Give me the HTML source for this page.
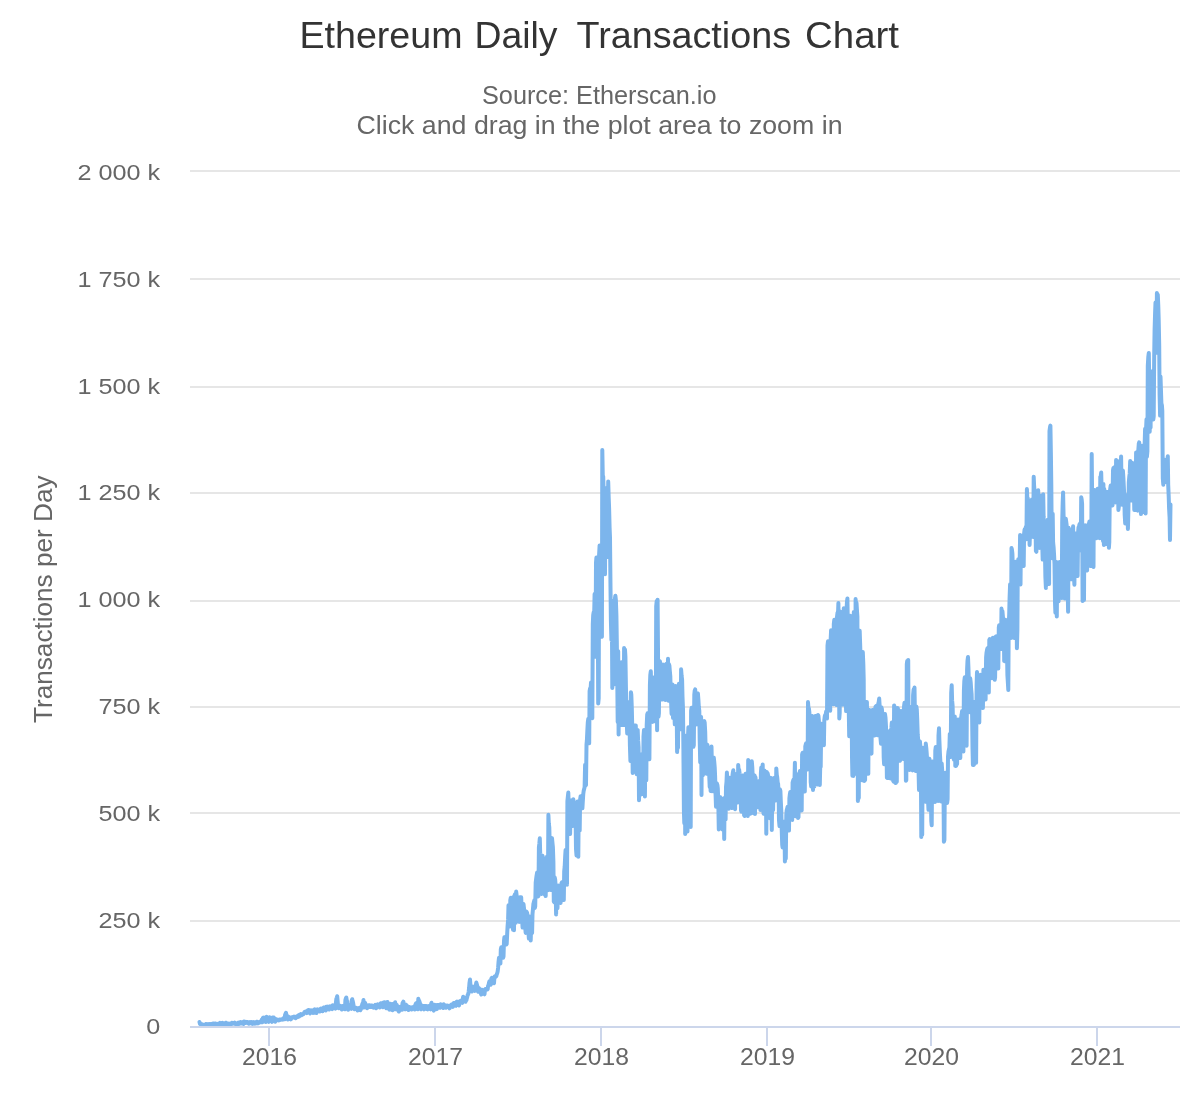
<!DOCTYPE html>
<html><head><meta charset="utf-8"><title>Ethereum Daily Transactions Chart</title>
<style>html,body{margin:0;padding:0;background:#fff;}body{width:1200px;height:1100px;overflow:hidden;font-family:"Liberation Sans",sans-serif;}svg{display:block;will-change:transform;}text{font-family:"Liberation Sans",sans-serif;}</style></head><body>
<svg width="1200" height="1100" viewBox="0 0 1200 1100">
<rect x="0" y="0" width="1200" height="1100" fill="#ffffff"/>
<defs><clipPath id="plotclip"><rect x="190" y="170" width="990" height="856"/></clipPath></defs>
<g stroke="#e6e6e6" stroke-width="2" fill="none">
<path d="M190 171 L1180 171"/>
<path d="M190 279 L1180 279"/>
<path d="M190 387 L1180 387"/>
<path d="M190 493 L1180 493"/>
<path d="M190 601 L1180 601"/>
<path d="M190 707 L1180 707"/>
<path d="M190 813 L1180 813"/>
<path d="M190 921 L1180 921"/>
</g>
<g stroke="#ccd6eb" stroke-width="2" fill="none">
<path d="M190 1027 L1180 1027"/>
<path d="M269 1027 L269 1046"/>
<path d="M435 1027 L435 1046"/>
<path d="M601 1027 L601 1046"/>
<path d="M767 1027 L767 1046"/>
<path d="M931 1027 L931 1046"/>
<path d="M1097 1027 L1097 1046"/>
</g>
<g clip-path="url(#plotclip)">
<path d="M199.5 1022.0 L200.0 1023.9 L200.4 1024.1 L200.9 1023.8 L201.3 1024.2 L201.8 1024.5 L202.2 1024.5 L202.7 1025.9 L203.1 1024.6 L203.6 1025.5 L204.0 1025.4 L204.5 1026.0 L204.9 1025.7 L205.4 1024.7 L205.8 1024.1 L206.3 1024.3 L206.7 1024.0 L207.2 1024.9 L207.7 1024.8 L208.1 1024.3 L208.6 1024.6 L209.0 1024.3 L209.5 1024.0 L209.9 1024.2 L210.4 1024.8 L210.8 1024.1 L211.3 1025.0 L211.7 1025.8 L212.2 1023.7 L212.6 1024.9 L213.1 1023.8 L213.5 1023.5 L214.0 1023.4 L214.5 1025.3 L214.9 1025.1 L215.4 1023.5 L215.8 1024.1 L216.3 1023.9 L216.7 1024.5 L217.2 1024.2 L217.6 1023.9 L218.1 1025.3 L218.5 1024.6 L219.0 1024.2 L219.4 1023.4 L219.9 1022.9 L220.3 1023.4 L220.8 1024.0 L221.2 1025.3 L221.7 1023.0 L222.2 1023.2 L222.6 1022.8 L223.1 1023.7 L223.5 1024.6 L224.0 1024.0 L224.4 1024.6 L224.9 1024.0 L225.3 1024.1 L225.8 1022.7 L226.2 1023.0 L226.7 1023.9 L227.1 1023.6 L227.6 1024.4 L228.0 1023.5 L228.5 1024.2 L229.0 1023.5 L229.4 1023.9 L229.9 1024.4 L230.3 1024.9 L230.8 1025.0 L231.2 1023.3 L231.7 1022.8 L232.1 1022.8 L232.6 1023.0 L233.0 1023.4 L233.5 1023.4 L233.9 1023.7 L234.4 1023.3 L234.8 1022.7 L235.3 1023.9 L235.7 1023.2 L236.2 1023.5 L236.7 1024.8 L237.1 1025.0 L237.6 1023.6 L238.0 1022.8 L238.5 1023.1 L238.9 1024.0 L239.4 1022.5 L239.8 1023.6 L240.3 1023.1 L240.7 1022.2 L241.2 1022.9 L241.6 1023.5 L242.1 1022.4 L242.5 1022.2 L243.0 1023.3 L243.5 1023.9 L243.9 1021.5 L244.4 1022.3 L244.8 1022.4 L245.3 1022.1 L245.7 1021.8 L246.2 1022.8 L246.6 1022.5 L247.1 1021.9 L247.5 1022.0 L248.0 1023.3 L248.4 1023.4 L248.9 1023.7 L249.3 1022.7 L249.8 1022.8 L250.2 1022.0 L250.7 1022.8 L251.2 1023.3 L251.6 1023.0 L252.1 1022.2 L252.5 1023.9 L253.0 1023.8 L253.4 1022.7 L253.9 1022.1 L254.3 1022.4 L254.8 1023.6 L255.2 1022.7 L255.7 1023.5 L256.1 1022.6 L256.6 1021.9 L257.0 1023.2 L257.5 1021.8 L258.0 1023.4 L258.4 1022.4 L258.9 1022.3 L259.3 1022.1 L259.8 1022.5 L260.2 1022.2 L260.7 1022.0 L261.1 1022.1 L261.6 1019.9 L262.0 1021.7 L262.5 1022.1 L262.9 1017.8 L263.4 1017.6 L263.8 1017.7 L264.3 1017.8 L264.7 1018.7 L265.2 1021.7 L265.7 1021.9 L266.1 1017.1 L266.6 1016.8 L267.0 1017.1 L267.5 1017.7 L267.9 1018.9 L268.4 1020.6 L268.8 1021.9 L269.3 1017.4 L269.7 1017.3 L270.2 1017.8 L270.6 1018.1 L271.1 1019.0 L271.5 1021.2 L272.0 1021.9 L272.4 1017.4 L272.9 1017.4 L273.4 1017.5 L273.8 1017.5 L274.3 1018.7 L274.7 1020.9 L275.2 1021.7 L275.6 1019.0 L276.1 1019.8 L276.5 1019.5 L277.0 1020.1 L277.4 1019.6 L277.9 1020.3 L278.3 1020.4 L278.8 1019.7 L279.2 1019.7 L279.7 1020.2 L280.2 1019.6 L280.6 1019.4 L281.1 1019.4 L281.5 1019.5 L282.0 1019.7 L282.4 1019.1 L282.9 1019.5 L283.3 1018.3 L283.8 1018.8 L284.2 1018.4 L284.7 1019.2 L285.1 1014.7 L285.6 1013.8 L286.0 1012.9 L286.5 1015.1 L286.9 1016.2 L287.4 1018.4 L287.9 1019.5 L288.3 1016.4 L288.8 1017.7 L289.2 1017.2 L289.7 1019.0 L290.1 1019.0 L290.6 1018.5 L291.0 1019.3 L291.5 1017.4 L291.9 1017.8 L292.4 1017.6 L292.8 1017.5 L293.3 1016.9 L293.7 1017.5 L294.2 1016.7 L294.7 1017.7 L295.1 1017.3 L295.6 1018.1 L296.0 1017.9 L296.5 1016.5 L296.9 1017.2 L297.4 1016.1 L297.8 1016.1 L298.3 1016.8 L298.7 1015.4 L299.2 1016.4 L299.6 1015.8 L300.1 1014.5 L300.5 1015.4 L301.0 1014.1 L301.4 1015.3 L301.9 1014.8 L302.4 1014.6 L302.8 1014.5 L303.3 1013.7 L303.7 1013.9 L304.2 1012.5 L304.6 1011.9 L305.1 1011.8 L305.5 1011.5 L306.0 1011.4 L306.4 1012.2 L306.9 1013.1 L307.3 1011.2 L307.8 1010.4 L308.2 1010.1 L308.7 1010.1 L309.2 1011.6 L309.6 1012.4 L310.1 1013.4 L310.5 1011.1 L311.0 1010.3 L311.4 1011.1 L311.9 1010.6 L312.3 1012.0 L312.8 1012.9 L313.2 1012.9 L313.7 1010.0 L314.1 1009.7 L314.6 1009.3 L315.0 1010.5 L315.5 1010.0 L315.9 1012.9 L316.4 1013.0 L316.9 1009.6 L317.3 1009.3 L317.8 1009.7 L318.2 1009.8 L318.7 1011.1 L319.1 1011.4 L319.6 1011.5 L320.0 1009.2 L320.5 1008.8 L320.9 1008.6 L321.4 1009.1 L321.8 1009.5 L322.3 1011.3 L322.7 1011.3 L323.2 1008.0 L323.7 1007.6 L324.1 1007.4 L324.6 1007.5 L325.0 1007.8 L325.5 1010.1 L325.9 1010.4 L326.4 1006.8 L326.8 1006.7 L327.3 1006.6 L327.7 1006.9 L328.2 1007.4 L328.6 1009.1 L329.1 1009.5 L329.5 1006.5 L330.0 1006.2 L330.4 1006.7 L330.9 1007.4 L331.4 1006.7 L331.8 1007.4 L332.3 1009.1 L332.7 1005.2 L333.2 1006.3 L333.6 1006.1 L334.1 1006.6 L334.5 1006.1 L335.0 1008.3 L335.4 1008.7 L335.9 1002.9 L336.3 999.2 L336.8 997.6 L337.2 996.2 L337.7 1001.8 L338.1 1006.6 L338.6 1008.3 L339.1 1005.5 L339.5 1005.7 L340.0 1005.7 L340.4 1007.0 L340.9 1007.5 L341.3 1008.8 L341.8 1009.4 L342.2 1006.3 L342.7 1006.0 L343.1 1006.1 L343.6 1006.0 L344.0 1007.3 L344.5 1008.2 L344.9 1009.3 L345.4 1000.1 L345.9 998.3 L346.3 997.6 L346.8 1000.5 L347.2 1001.5 L347.7 1007.8 L348.1 1009.7 L348.6 1005.5 L349.0 1005.4 L349.5 1005.4 L349.9 1005.8 L350.4 1006.9 L350.8 1008.5 L351.3 1008.8 L351.7 1000.4 L352.2 999.2 L352.6 1001.1 L353.1 1002.7 L353.6 1005.9 L354.0 1008.9 L354.5 1009.2 L354.9 1008.6 L355.4 1007.6 L355.8 1008.1 L356.3 1008.5 L356.7 1008.2 L357.2 1009.5 L357.6 1010.5 L358.1 1009.1 L358.5 1008.2 L359.0 1008.4 L359.4 1007.9 L359.9 1009.4 L360.4 1010.2 L360.8 1009.4 L361.3 1007.1 L361.7 1006.2 L362.2 1004.5 L362.6 1003.3 L363.1 1003.2 L363.5 1000.1 L364.0 1007.6 L364.4 1002.6 L364.9 1002.7 L365.3 1003.5 L365.8 1004.6 L366.2 1005.5 L366.7 1006.3 L367.1 1008.2 L367.6 1006.5 L368.1 1006.1 L368.5 1006.5 L369.0 1005.2 L369.4 1006.1 L369.9 1007.1 L370.3 1007.1 L370.8 1005.5 L371.2 1006.4 L371.7 1006.2 L372.1 1005.5 L372.6 1007.2 L373.0 1006.9 L373.5 1007.6 L373.9 1006.6 L374.4 1005.7 L374.9 1005.4 L375.3 1004.8 L375.8 1006.4 L376.2 1008.2 L376.7 1007.2 L377.1 1005.1 L377.6 1004.4 L378.0 1005.7 L378.5 1005.9 L378.9 1006.4 L379.4 1006.4 L379.8 1007.4 L380.3 1003.7 L380.7 1003.3 L381.2 1003.2 L381.6 1003.2 L382.1 1004.5 L382.6 1006.3 L383.0 1007.2 L383.5 1002.6 L383.9 1002.4 L384.4 1002.3 L384.8 1003.5 L385.3 1003.5 L385.7 1007.1 L386.2 1008.1 L386.6 1002.3 L387.1 1002.1 L387.5 1002.1 L388.0 1004.0 L388.4 1006.1 L388.9 1009.0 L389.4 1009.7 L389.8 1004.0 L390.3 1003.7 L390.7 1004.0 L391.2 1005.0 L391.6 1006.0 L392.1 1009.9 L392.5 1010.1 L393.0 1004.0 L393.4 1003.9 L393.9 1003.7 L394.3 1004.7 L394.8 1005.3 L395.2 1002.3 L395.7 1009.3 L396.1 1004.5 L396.6 1004.6 L397.1 1005.7 L397.5 1006.4 L398.0 1007.4 L398.4 1010.8 L398.9 1011.5 L399.3 1007.0 L399.8 1006.9 L400.2 1007.1 L400.7 1006.5 L401.1 1006.8 L401.6 1009.8 L402.0 1009.8 L402.5 1003.3 L402.9 1002.6 L403.4 1001.7 L403.8 1004.3 L404.3 1005.4 L404.8 1008.6 L405.2 1009.3 L405.7 1004.7 L406.1 1004.8 L406.6 1005.3 L407.0 1006.0 L407.5 1006.7 L407.9 1009.5 L408.4 1009.9 L408.8 1007.2 L409.3 1007.0 L409.7 1007.1 L410.2 1007.7 L410.6 1008.5 L411.1 1008.9 L411.6 1009.5 L412.0 1007.3 L412.5 1007.3 L412.9 1008.2 L413.4 1007.0 L413.8 1008.2 L414.3 1008.8 L414.7 1009.5 L415.2 1005.2 L415.6 1004.2 L416.1 1003.3 L416.5 1003.7 L417.0 1004.7 L417.4 1007.0 L417.9 1009.3 L418.3 998.8 L418.8 1000.3 L419.3 1001.1 L419.7 1002.3 L420.2 1004.5 L420.6 1008.5 L421.1 1009.3 L421.5 1005.7 L422.0 1005.5 L422.4 1005.9 L422.9 1006.3 L423.3 1007.1 L423.8 1008.5 L424.2 1009.3 L424.7 1006.0 L425.1 1005.9 L425.6 1006.1 L426.1 1006.1 L426.5 1007.4 L427.0 1009.1 L427.4 1009.3 L427.9 1006.4 L428.3 1006.1 L428.8 1006.3 L429.2 1006.4 L429.7 1006.6 L430.1 1009.0 L430.6 1009.3 L431.0 1004.5 L431.5 1002.7 L431.9 1004.2 L432.4 1004.6 L432.8 1005.7 L433.3 1009.1 L433.8 1010.7 L434.2 1005.1 L434.7 1004.8 L435.1 1005.0 L435.6 1005.3 L436.0 1006.6 L436.5 1009.1 L436.9 1008.9 L437.4 1005.0 L437.8 1004.9 L438.3 1005.0 L438.7 1005.7 L439.2 1006.1 L439.6 1007.1 L440.1 1007.7 L440.6 1004.3 L441.0 1005.5 L441.5 1004.5 L441.9 1004.9 L442.4 1005.7 L442.8 1007.4 L443.3 1008.0 L443.7 1004.2 L444.2 1004.8 L444.6 1005.5 L445.1 1005.9 L445.5 1006.0 L446.0 1007.8 L446.4 1006.7 L446.9 1005.4 L447.3 1005.4 L447.8 1005.8 L448.3 1006.5 L448.7 1006.0 L449.2 1007.5 L449.6 1008.3 L450.1 1006.1 L450.5 1005.7 L451.0 1005.0 L451.4 1004.5 L451.9 1006.1 L452.3 1006.2 L452.8 1006.9 L453.2 1003.8 L453.7 1003.0 L454.1 1003.9 L454.6 1003.1 L455.1 1004.0 L455.5 1005.5 L456.0 1005.8 L456.4 1001.9 L456.9 1001.6 L457.3 1001.7 L457.8 1001.8 L458.2 1002.3 L458.7 1005.0 L459.1 1005.3 L459.6 1001.5 L460.0 1001.3 L460.5 1000.9 L460.9 1001.4 L461.4 1002.2 L461.8 1002.3 L462.3 1002.8 L462.8 998.8 L463.2 996.7 L463.7 998.3 L464.1 999.2 L464.6 1000.8 L465.0 1001.3 L465.5 1001.7 L465.9 999.6 L466.4 1000.2 L466.8 998.4 L467.3 996.6 L467.7 994.9 L468.2 994.3 L468.6 992.1 L469.1 987.8 L469.5 982.7 L470.0 979.5 L470.5 985.7 L470.9 988.0 L471.4 990.4 L471.8 991.5 L472.3 986.9 L472.7 986.7 L473.2 986.9 L473.6 987.0 L474.1 988.6 L474.5 989.8 L475.0 990.8 L475.4 986.0 L475.9 984.8 L476.3 982.5 L476.8 984.3 L477.3 986.1 L477.7 990.5 L478.2 991.8 L478.6 987.9 L479.1 988.3 L479.5 988.9 L480.0 989.3 L480.4 990.3 L480.9 993.7 L481.3 994.5 L481.8 989.8 L482.2 989.8 L482.7 990.3 L483.1 990.2 L483.6 992.1 L484.0 993.5 L484.5 994.3 L485.0 989.8 L485.4 989.0 L485.9 989.0 L486.3 989.1 L486.8 988.9 L487.2 989.5 L487.7 989.0 L488.1 985.7 L488.6 984.9 L489.0 982.7 L489.5 981.2 L489.9 981.2 L490.4 983.9 L490.8 984.7 L491.3 978.6 L491.8 977.9 L492.2 978.4 L492.7 979.0 L493.1 980.6 L493.6 983.0 L494.0 983.2 L494.5 976.6 L494.9 976.4 L495.4 976.2 L495.8 976.6 L496.3 976.2 L496.7 974.5 L497.2 973.2 L497.6 971.7 L498.1 968.0 L498.5 962.3 L499.0 957.8 L499.5 959.6 L499.9 963.2 L500.4 963.5 L500.8 949.5 L501.3 947.3 L501.7 947.6 L502.2 949.5 L502.6 949.9 L503.1 957.7 L503.5 956.6 L504.0 941.0 L504.4 937.2 L504.9 937.1 L505.3 937.1 L505.8 940.8 L506.3 944.6 L506.7 943.9 L507.2 933.5 L507.6 925.8 L508.1 919.9 L508.5 905.3 L509.0 907.4 L509.4 919.9 L509.9 926.4 L510.3 900.2 L510.8 897.7 L511.2 900.0 L511.7 898.6 L512.1 907.0 L512.6 921.0 L513.0 929.7 L513.5 897.0 L514.0 930.3 L514.4 896.0 L514.9 894.2 L515.3 901.4 L515.8 922.8 L516.2 891.6 L516.7 896.2 L517.1 896.9 L517.6 899.7 L518.0 901.4 L518.5 909.1 L518.9 919.2 L519.4 921.9 L519.8 897.3 L520.3 897.3 L520.8 897.3 L521.2 897.3 L521.7 911.1 L522.1 919.6 L522.6 927.5 L523.0 927.5 L523.5 904.1 L523.9 907.6 L524.4 911.9 L524.8 914.8 L525.3 928.8 L525.7 932.9 L526.2 911.5 L526.6 911.7 L527.1 912.9 L527.5 915.6 L528.0 922.9 L528.5 933.5 L528.9 938.5 L529.4 916.5 L529.8 916.7 L530.3 917.5 L530.7 940.5 L531.2 925.0 L531.6 933.6 L532.1 932.7 L532.5 914.1 L533.0 908.5 L533.4 903.8 L533.9 902.2 L534.3 900.3 L534.8 907.9 L535.2 906.4 L535.7 882.4 L536.2 878.6 L536.6 875.5 L537.1 872.6 L537.5 875.4 L538.0 896.5 L538.4 896.0 L538.9 847.5 L539.3 844.0 L539.8 838.3 L540.2 853.4 L540.7 862.3 L541.1 889.9 L541.6 894.1 L542.0 858.1 L542.5 855.8 L543.0 857.6 L543.4 862.7 L543.9 868.2 L544.3 889.9 L544.8 894.9 L545.2 859.5 L545.7 896.1 L546.1 859.5 L546.6 860.2 L547.0 856.6 L547.5 877.8 L547.9 890.2 L548.4 814.8 L548.8 823.6 L549.3 827.6 L549.7 843.8 L550.2 851.4 L550.7 875.0 L551.1 890.1 L551.6 840.1 L552.0 838.1 L552.5 843.5 L552.9 847.3 L553.4 862.1 L553.8 901.5 L554.3 902.4 L554.7 877.3 L555.2 879.9 L555.6 885.6 L556.1 914.4 L556.5 891.5 L557.0 905.4 L557.5 908.2 L557.9 886.4 L558.4 885.6 L558.8 886.5 L559.3 887.0 L559.7 890.7 L560.2 900.3 L560.6 902.9 L561.1 885.9 L561.5 883.2 L562.0 882.3 L562.4 883.9 L562.9 889.1 L563.3 894.1 L563.8 900.0 L564.2 871.3 L564.7 866.5 L565.2 855.9 L565.6 850.0 L566.1 853.3 L566.5 874.0 L567.0 884.7 L567.4 801.3 L567.9 796.3 L568.3 792.6 L568.8 808.0 L569.2 817.3 L569.7 829.4 L570.1 834.0 L570.6 802.6 L571.0 800.5 L571.5 801.0 L572.0 806.5 L572.4 808.2 L572.9 826.0 L573.3 799.2 L573.8 805.1 L574.2 802.4 L574.7 807.6 L575.1 807.8 L575.6 817.0 L576.0 848.9 L576.5 855.4 L576.9 805.3 L577.4 801.6 L577.8 802.6 L578.3 856.8 L578.7 809.0 L579.2 823.4 L579.7 830.4 L580.1 799.6 L580.6 796.4 L581.0 796.2 L581.5 800.5 L581.9 804.5 L582.4 808.3 L582.8 801.5 L583.3 793.7 L583.7 790.8 L584.2 788.7 L584.6 787.3 L585.1 764.8 L585.5 784.5 L586.0 785.0 L586.5 744.8 L586.9 740.3 L587.4 729.5 L587.8 722.3 L588.3 718.8 L588.7 734.6 L589.2 743.3 L589.6 691.1 L590.1 688.3 L590.5 690.3 L591.0 682.6 L591.4 690.9 L591.9 715.4 L592.3 718.3 L592.8 624.3 L593.2 615.2 L593.7 612.2 L594.2 613.3 L594.6 594.0 L595.1 651.6 L595.5 656.8 L596.0 562.8 L596.4 557.6 L596.9 558.3 L597.3 567.2 L597.8 603.6 L598.2 703.6 L598.7 698.4 L599.1 554.9 L599.6 545.4 L600.0 549.2 L600.5 547.7 L600.9 581.5 L601.4 634.7 L601.9 636.7 L602.3 450.1 L602.8 477.7 L603.2 476.5 L603.7 495.0 L604.1 506.9 L604.6 568.0 L605.0 574.2 L605.5 491.5 L605.9 488.3 L606.4 496.5 L606.8 493.9 L607.3 529.4 L607.7 556.9 L608.2 481.6 L608.7 497.9 L609.1 507.9 L609.6 527.9 L610.0 537.5 L610.5 587.4 L610.9 620.8 L611.4 639.9 L611.8 600.6 L612.3 687.9 L612.7 606.4 L613.2 606.1 L613.6 636.5 L614.1 660.7 L614.5 684.2 L615.0 598.0 L615.4 595.7 L615.9 600.5 L616.4 615.4 L616.8 641.0 L617.3 682.6 L617.7 721.9 L618.2 651.3 L618.6 734.4 L619.1 661.9 L619.5 664.7 L620.0 685.8 L620.4 709.1 L620.9 724.9 L621.3 663.6 L621.8 662.3 L622.2 663.0 L622.7 667.1 L623.2 673.9 L623.6 724.9 L624.1 648.0 L624.5 650.5 L625.0 649.6 L625.4 656.4 L625.9 685.7 L626.3 705.7 L626.8 723.5 L627.2 733.5 L627.7 702.6 L628.1 702.0 L628.6 705.7 L629.0 705.1 L629.5 718.3 L629.9 745.1 L630.4 760.9 L630.9 692.2 L631.3 694.6 L631.8 708.1 L632.2 724.7 L632.7 772.9 L633.1 759.9 L633.6 772.0 L634.0 726.1 L634.5 725.6 L634.9 725.6 L635.4 725.6 L635.8 725.6 L636.3 761.0 L636.7 774.3 L637.2 730.5 L637.7 730.1 L638.1 740.2 L638.6 747.6 L639.0 800.2 L639.5 785.4 L639.9 795.2 L640.4 756.2 L640.8 754.4 L641.3 755.1 L641.7 762.3 L642.2 794.0 L642.6 794.0 L643.1 794.0 L643.5 736.4 L644.0 729.9 L644.4 733.8 L644.9 796.6 L645.4 751.2 L645.8 773.5 L646.3 780.3 L646.7 725.0 L647.2 714.7 L647.6 713.4 L648.1 715.0 L648.5 718.9 L649.0 750.0 L649.4 759.3 L649.9 685.3 L650.3 675.1 L650.8 671.3 L651.2 686.4 L651.7 687.3 L652.2 719.7 L652.6 721.9 L653.1 680.5 L653.5 677.6 L654.0 677.7 L654.4 679.8 L654.9 690.6 L655.3 719.0 L655.8 721.6 L656.2 606.3 L656.7 601.1 L657.1 730.2 L657.6 599.8 L658.0 649.9 L658.5 716.7 L658.9 713.3 L659.4 660.9 L659.9 661.4 L660.3 664.1 L660.8 665.8 L661.2 681.7 L661.7 697.2 L662.1 699.6 L662.6 665.0 L663.0 664.6 L663.5 665.1 L663.9 671.2 L664.4 681.0 L664.8 691.6 L665.3 699.9 L665.7 666.4 L666.2 664.0 L666.6 663.9 L667.1 663.9 L667.6 676.5 L668.0 658.8 L668.5 700.7 L668.9 664.2 L669.4 665.7 L669.8 670.8 L670.3 676.1 L670.7 691.2 L671.2 704.1 L671.6 713.9 L672.1 684.4 L672.5 684.4 L673.0 718.0 L673.4 687.5 L673.9 697.5 L674.4 714.1 L674.8 724.3 L675.3 687.1 L675.7 686.1 L676.2 686.2 L676.6 698.9 L677.1 752.1 L677.5 739.9 L678.0 747.7 L678.4 689.7 L678.9 683.8 L679.3 684.3 L679.8 685.7 L680.2 700.5 L680.7 729.3 L681.1 669.3 L681.6 675.8 L682.1 679.7 L682.5 696.8 L683.0 709.4 L683.4 749.1 L683.9 810.6 L684.3 823.3 L684.8 735.4 L685.2 834.0 L685.7 743.6 L686.1 755.0 L686.6 774.0 L687.0 831.5 L687.5 831.5 L687.9 739.2 L688.4 727.2 L688.9 731.8 L689.3 736.1 L689.8 764.5 L690.2 812.7 L690.7 827.0 L691.1 710.5 L691.6 707.7 L692.0 708.3 L692.5 713.8 L692.9 715.1 L693.4 746.8 L693.8 745.0 L694.3 694.7 L694.7 690.7 L695.2 689.4 L695.6 698.3 L696.1 705.2 L696.6 722.1 L697.0 724.4 L697.5 694.7 L697.9 693.5 L698.4 700.0 L698.8 706.6 L699.3 710.9 L699.7 739.7 L700.2 762.2 L700.6 720.6 L701.1 717.0 L701.5 795.0 L702.0 724.4 L702.4 747.2 L702.9 775.2 L703.4 771.3 L703.8 721.8 L704.3 721.1 L704.7 722.8 L705.2 731.9 L705.6 748.1 L706.1 763.4 L706.5 773.7 L707.0 744.6 L707.4 745.1 L707.9 749.0 L708.3 751.0 L708.8 757.5 L709.2 774.8 L709.7 786.9 L710.1 750.8 L710.6 791.0 L711.1 791.1 L711.5 746.6 L712.0 771.1 L712.4 785.8 L712.9 791.3 L713.3 759.4 L713.8 757.6 L714.2 761.2 L714.7 767.2 L715.1 775.8 L715.6 794.9 L716.0 806.7 L716.5 784.7 L716.9 783.5 L717.4 785.1 L717.8 788.2 L718.3 801.9 L718.8 829.5 L719.2 828.1 L719.7 797.9 L720.1 797.1 L720.6 799.8 L721.0 803.1 L721.5 807.9 L721.9 821.4 L722.4 829.5 L722.8 802.6 L723.3 800.1 L723.7 798.3 L724.2 839.1 L724.6 800.8 L725.1 817.1 L725.6 819.4 L726.0 787.0 L726.5 782.0 L726.9 772.6 L727.4 782.8 L727.8 783.2 L728.3 803.7 L728.7 808.7 L729.2 778.9 L729.6 777.8 L730.1 780.2 L730.5 784.2 L731.0 791.9 L731.4 807.4 L731.9 808.0 L732.3 777.1 L732.8 772.9 L733.3 770.3 L733.7 780.7 L734.2 781.0 L734.6 806.5 L735.1 809.2 L735.5 774.4 L736.0 774.0 L736.4 774.1 L736.9 781.9 L737.3 788.9 L737.8 802.4 L738.2 765.0 L738.7 771.9 L739.1 769.6 L739.6 773.3 L740.1 776.1 L740.5 781.5 L741.0 810.3 L741.4 811.7 L741.9 777.5 L742.3 775.4 L742.8 776.6 L743.2 780.2 L743.7 788.5 L744.1 815.2 L744.6 816.0 L745.0 775.8 L745.5 773.7 L745.9 773.9 L746.4 780.4 L746.8 785.2 L747.3 811.5 L747.8 816.0 L748.2 760.0 L748.7 762.5 L749.1 766.0 L749.6 775.3 L750.0 783.6 L750.5 813.7 L750.9 813.3 L751.4 765.9 L751.8 761.3 L752.3 767.5 L752.7 776.5 L753.2 782.2 L753.6 804.2 L754.1 813.4 L754.6 775.6 L755.0 814.0 L755.5 777.3 L755.9 785.1 L756.4 786.2 L756.8 801.1 L757.3 807.3 L757.7 781.6 L758.2 781.2 L758.6 781.2 L759.1 783.6 L759.5 791.6 L760.0 799.7 L760.4 810.0 L760.9 772.8 L761.3 767.4 L761.8 769.1 L762.3 773.1 L762.7 764.4 L763.2 810.9 L763.6 813.8 L764.1 771.5 L764.5 770.5 L765.0 773.4 L765.4 783.3 L765.9 787.3 L766.3 833.7 L766.8 772.0 L767.2 774.0 L767.7 773.5 L768.1 775.7 L768.6 784.4 L769.1 791.4 L769.5 816.9 L770.0 818.3 L770.4 780.2 L770.9 777.9 L771.3 778.3 L771.8 829.9 L772.2 795.0 L772.7 806.0 L773.1 810.0 L773.6 780.0 L774.0 778.0 L774.5 779.1 L774.9 782.0 L775.4 786.8 L775.8 800.4 L776.3 768.4 L776.8 775.1 L777.2 777.2 L777.7 782.6 L778.1 783.9 L778.6 792.5 L779.0 820.3 L779.5 826.1 L779.9 789.3 L780.4 791.1 L780.8 801.1 L781.3 811.5 L781.7 829.0 L782.2 844.8 L782.6 847.5 L783.1 822.9 L783.5 821.7 L784.0 823.2 L784.5 827.0 L784.9 861.5 L785.4 850.8 L785.8 858.6 L786.3 814.9 L786.7 810.3 L787.2 808.4 L787.6 806.8 L788.1 816.2 L788.5 825.7 L789.0 830.4 L789.4 798.3 L789.9 794.1 L790.3 791.9 L790.8 793.4 L791.3 801.4 L791.7 814.2 L792.2 819.9 L792.6 782.5 L793.1 780.9 L793.5 779.7 L794.0 784.3 L794.4 783.9 L794.9 762.8 L795.3 816.2 L795.8 773.5 L796.2 774.9 L796.7 780.3 L797.1 787.7 L797.6 788.9 L798.0 818.0 L798.5 817.1 L799.0 780.5 L799.4 775.5 L799.9 771.1 L800.3 771.3 L800.8 771.4 L801.2 806.6 L801.7 810.5 L802.1 754.6 L802.6 752.7 L803.0 756.4 L803.5 759.5 L803.9 760.0 L804.4 779.9 L804.8 791.6 L805.3 746.2 L805.8 744.3 L806.2 743.2 L806.7 745.2 L807.1 749.8 L807.6 769.6 L808.0 702.1 L808.5 709.0 L808.9 708.4 L809.4 712.8 L809.8 727.0 L810.3 731.2 L810.7 782.0 L811.2 786.6 L811.6 718.4 L812.1 716.0 L812.5 716.2 L813.0 790.0 L813.5 747.2 L813.9 772.2 L814.4 786.4 L814.8 719.5 L815.3 716.0 L815.7 720.4 L816.2 725.8 L816.6 732.6 L817.1 772.0 L817.5 784.4 L818.0 715.0 L818.4 715.7 L818.9 721.0 L819.3 736.1 L819.8 784.9 L820.3 763.5 L820.7 766.9 L821.2 726.6 L821.6 723.7 L822.1 725.0 L822.5 726.5 L823.0 734.7 L823.4 741.2 L823.9 745.2 L824.3 720.3 L824.8 716.1 L825.2 715.0 L825.7 715.4 L826.1 711.6 L826.6 714.5 L827.0 718.4 L827.5 645.6 L828.0 641.3 L828.4 643.0 L828.9 653.0 L829.3 656.2 L829.8 702.4 L830.2 710.7 L830.7 638.7 L831.1 630.2 L831.6 633.5 L832.0 639.8 L832.5 646.6 L832.9 694.0 L833.4 704.2 L833.8 624.0 L834.3 619.7 L834.8 624.6 L835.2 630.2 L835.7 653.2 L836.1 680.7 L836.6 705.1 L837.0 616.9 L837.5 612.8 L837.9 616.9 L838.4 603.1 L838.8 641.6 L839.3 718.4 L839.7 712.8 L840.2 621.4 L840.6 611.8 L841.1 612.2 L841.5 626.7 L842.0 635.0 L842.5 683.0 L842.9 704.8 L843.4 618.1 L843.8 608.2 L844.3 612.3 L844.7 613.3 L845.2 642.3 L845.6 690.8 L846.1 711.1 L846.5 610.4 L847.0 601.4 L847.4 598.4 L847.9 628.0 L848.3 663.5 L848.8 712.0 L849.2 736.2 L849.7 621.0 L850.2 615.7 L850.6 629.1 L851.1 629.3 L851.5 677.9 L852.0 756.7 L852.4 775.7 L852.9 625.1 L853.3 776.0 L853.8 612.1 L854.2 649.7 L854.7 658.4 L855.1 773.7 L855.6 599.0 L856.0 606.8 L856.5 602.8 L857.0 611.1 L857.4 616.6 L857.9 801.0 L858.3 774.9 L858.8 798.0 L859.2 635.9 L859.7 630.7 L860.1 642.8 L860.6 658.7 L861.0 685.7 L861.5 751.7 L861.9 780.2 L862.4 664.0 L862.8 652.0 L863.3 663.5 L863.7 678.9 L864.2 780.9 L864.7 769.7 L865.1 780.0 L865.6 703.6 L866.0 702.0 L866.5 702.0 L866.9 702.0 L867.4 735.5 L867.8 762.0 L868.3 773.8 L868.7 711.5 L869.2 710.0 L869.6 713.1 L870.1 715.0 L870.5 734.2 L871.0 751.7 L871.5 753.6 L871.9 712.6 L872.4 710.0 L872.8 712.8 L873.3 716.7 L873.7 719.7 L874.2 733.6 L874.6 735.5 L875.1 709.2 L875.5 706.8 L876.0 706.2 L876.4 711.5 L876.9 713.5 L877.3 727.1 L877.8 735.3 L878.2 704.0 L878.7 702.0 L879.2 698.6 L879.6 704.9 L880.1 714.1 L880.5 738.4 L881.0 743.8 L881.4 707.3 L881.9 709.1 L882.3 714.0 L882.8 716.5 L883.2 725.1 L883.7 757.4 L884.1 764.2 L884.6 716.0 L885.0 714.0 L885.5 717.7 L886.0 726.9 L886.4 741.1 L886.9 777.8 L887.3 778.0 L887.8 778.0 L888.2 778.0 L888.7 778.0 L889.1 731.2 L889.6 750.5 L890.0 764.5 L890.5 778.4 L890.9 732.1 L891.4 727.7 L891.8 722.6 L892.3 729.8 L892.7 737.6 L893.2 780.9 L893.7 781.6 L894.1 705.4 L894.6 707.0 L895.0 714.5 L895.5 783.0 L895.9 783.0 L896.4 780.3 L896.8 781.8 L897.3 709.0 L897.7 708.0 L898.2 709.7 L898.6 722.5 L899.1 729.3 L899.5 759.0 L900.0 760.8 L900.5 715.5 L900.9 711.0 L901.4 714.8 L901.8 714.8 L902.3 733.1 L902.7 750.1 L903.2 759.0 L903.6 713.3 L904.1 705.9 L904.5 702.8 L905.0 709.8 L905.4 723.9 L905.9 780.8 L906.3 780.0 L906.8 664.2 L907.2 660.9 L907.7 673.8 L908.2 660.1 L908.6 726.1 L909.1 761.7 L909.5 770.0 L910.0 712.5 L910.4 707.0 L910.9 710.5 L911.3 711.6 L911.8 720.1 L912.2 767.9 L912.7 770.4 L913.1 695.2 L913.6 689.6 L914.0 690.2 L914.5 687.5 L914.9 712.7 L915.4 759.3 L915.9 771.1 L916.3 706.4 L916.8 709.3 L917.2 718.7 L917.7 734.2 L918.1 738.9 L918.6 772.8 L919.0 789.9 L919.5 741.9 L919.9 741.3 L920.4 746.8 L920.8 755.9 L921.3 836.9 L921.7 820.8 L922.2 834.7 L922.7 751.2 L923.1 747.8 L923.6 754.2 L924.0 751.2 L924.5 770.3 L924.9 791.4 L925.4 801.7 L925.8 743.6 L926.3 748.1 L926.7 753.2 L927.2 761.3 L927.6 778.2 L928.1 802.0 L928.5 809.8 L929.0 763.2 L929.4 758.7 L929.9 762.6 L930.4 769.1 L930.8 789.1 L931.3 821.0 L931.7 825.2 L932.2 765.3 L932.6 761.4 L933.1 764.0 L933.5 764.2 L934.0 777.6 L934.4 796.8 L934.9 802.0 L935.3 750.5 L935.8 746.9 L936.2 748.8 L936.7 755.2 L937.2 756.6 L937.6 793.0 L938.1 801.0 L938.5 735.3 L939.0 728.2 L939.4 740.7 L939.9 753.4 L940.3 760.1 L940.8 787.9 L941.2 801.5 L941.7 763.4 L942.1 769.1 L942.6 777.7 L943.0 780.1 L943.5 792.3 L943.9 841.7 L944.4 839.9 L944.9 779.9 L945.3 772.7 L945.8 774.3 L946.2 773.0 L946.7 778.6 L947.1 802.9 L947.6 799.3 L948.0 756.6 L948.5 751.5 L948.9 749.8 L949.4 747.5 L949.8 733.9 L950.3 748.6 L950.7 756.9 L951.2 692.8 L951.7 685.3 L952.1 700.4 L952.6 705.8 L953.0 721.9 L953.5 757.5 L953.9 759.6 L954.4 716.6 L954.8 716.6 L955.3 765.9 L955.7 766.0 L956.2 765.8 L956.6 754.1 L957.1 764.0 L957.5 723.5 L958.0 719.6 L958.4 722.3 L958.9 726.9 L959.4 735.3 L959.8 750.7 L960.3 758.1 L960.7 722.2 L961.2 717.0 L961.6 714.7 L962.1 710.9 L962.5 722.1 L963.0 744.8 L963.4 751.5 L963.9 690.9 L964.3 681.3 L964.8 677.3 L965.2 678.4 L965.7 684.1 L966.2 727.5 L966.6 745.8 L967.1 669.5 L967.5 660.7 L968.0 657.1 L968.4 667.2 L968.9 683.6 L969.3 700.8 L969.8 712.2 L970.2 678.3 L970.7 682.4 L971.1 688.8 L971.6 694.2 L972.0 707.7 L972.5 747.6 L972.9 765.0 L973.4 765.0 L973.9 764.7 L974.3 701.9 L974.8 713.3 L975.2 711.9 L975.7 751.6 L976.1 762.7 L976.6 685.6 L977.0 672.0 L977.5 677.1 L977.9 688.7 L978.4 696.7 L978.8 675.7 L979.3 722.6 L979.7 677.6 L980.2 675.6 L980.6 674.9 L981.1 678.5 L981.6 686.5 L982.0 698.1 L982.5 708.0 L982.9 708.0 L983.4 669.8 L983.8 670.5 L984.3 672.4 L984.7 674.8 L985.2 693.8 L985.6 699.5 L986.1 657.4 L986.5 652.9 L987.0 650.0 L987.4 648.4 L987.9 653.1 L988.4 684.0 L988.8 692.5 L989.3 640.0 L989.7 639.2 L990.2 643.3 L990.6 641.6 L991.1 656.8 L991.5 676.6 L992.0 678.1 L992.4 638.1 L992.9 637.8 L993.3 640.5 L993.8 641.4 L994.2 654.7 L994.7 679.8 L995.1 677.5 L995.6 636.8 L996.1 636.4 L996.5 639.1 L997.0 643.0 L997.4 651.1 L997.9 661.7 L998.3 668.5 L998.8 627.6 L999.2 625.2 L999.7 625.6 L1000.1 628.7 L1000.6 633.0 L1001.0 648.9 L1001.5 608.6 L1001.9 612.3 L1002.4 611.0 L1002.9 616.6 L1003.3 622.0 L1003.8 623.1 L1004.2 660.9 L1004.7 661.1 L1005.1 621.1 L1005.6 619.9 L1006.0 626.2 L1006.5 627.5 L1006.9 644.0 L1007.4 675.2 L1007.8 681.4 L1008.3 690.0 L1008.7 625.3 L1009.2 614.5 L1009.6 597.7 L1010.1 584.2 L1010.6 628.3 L1011.0 638.0 L1011.5 548.1 L1011.9 549.4 L1012.4 553.8 L1012.8 566.7 L1013.3 572.2 L1013.7 617.3 L1014.2 638.0 L1014.6 638.0 L1015.1 638.0 L1015.5 561.7 L1016.0 571.9 L1016.4 584.9 L1016.9 648.3 L1017.4 629.2 L1017.8 564.3 L1018.3 559.2 L1018.7 562.9 L1019.2 563.9 L1019.6 566.8 L1020.1 535.0 L1020.5 584.6 L1021.0 536.0 L1021.4 536.0 L1021.9 536.0 L1022.3 542.3 L1022.8 550.6 L1023.2 565.0 L1023.7 566.0 L1024.1 533.6 L1024.6 529.5 L1025.1 529.7 L1025.5 528.4 L1026.0 526.5 L1026.4 539.3 L1026.9 489.0 L1027.3 497.8 L1027.8 498.0 L1028.2 504.6 L1028.7 508.8 L1029.1 519.1 L1029.6 545.0 L1030.0 533.6 L1030.5 506.2 L1030.9 501.4 L1031.4 501.2 L1031.9 499.5 L1032.3 500.5 L1032.8 527.9 L1033.2 537.0 L1033.7 476.7 L1034.1 485.6 L1034.6 492.2 L1035.0 504.3 L1035.5 519.5 L1035.9 550.9 L1036.4 551.8 L1036.8 496.7 L1037.3 491.7 L1037.7 496.3 L1038.2 490.2 L1038.6 514.3 L1039.1 544.9 L1039.6 547.9 L1040.0 500.1 L1040.5 495.8 L1040.9 499.9 L1041.4 495.8 L1041.8 519.7 L1042.3 546.2 L1042.7 559.6 L1043.2 494.2 L1043.6 516.7 L1044.1 528.9 L1044.5 545.6 L1045.0 555.0 L1045.4 577.2 L1045.9 587.9 L1046.3 547.8 L1046.8 543.9 L1047.3 530.1 L1047.7 519.8 L1048.2 524.5 L1048.6 567.0 L1049.1 584.0 L1049.5 431.0 L1050.0 427.2 L1050.4 425.6 L1050.9 454.8 L1051.3 484.9 L1051.8 543.2 L1052.2 558.2 L1052.7 513.8 L1053.1 542.3 L1053.6 547.1 L1054.1 555.3 L1054.5 564.0 L1055.0 602.1 L1055.4 612.8 L1055.9 565.2 L1056.3 562.0 L1056.8 616.6 L1057.2 569.4 L1057.7 577.4 L1058.1 596.7 L1058.6 601.2 L1059.0 562.7 L1059.5 562.0 L1059.9 562.7 L1060.4 565.1 L1060.8 576.8 L1061.3 592.6 L1061.8 598.0 L1062.2 522.3 L1062.7 502.3 L1063.1 492.4 L1063.6 517.4 L1064.0 529.5 L1064.5 597.0 L1064.9 598.5 L1065.4 526.3 L1065.8 518.7 L1066.3 522.2 L1066.7 525.4 L1067.2 552.2 L1067.6 585.4 L1068.1 611.7 L1068.6 527.8 L1069.0 528.8 L1069.5 533.9 L1069.9 537.1 L1070.4 548.4 L1070.8 578.9 L1071.3 579.2 L1071.7 531.6 L1072.2 530.3 L1072.6 534.6 L1073.1 526.3 L1073.5 550.0 L1074.0 576.7 L1074.4 584.7 L1074.9 534.6 L1075.3 533.3 L1075.8 537.2 L1076.3 540.0 L1076.7 557.0 L1077.2 569.9 L1077.6 576.1 L1078.1 532.3 L1078.5 527.3 L1079.0 528.8 L1079.4 524.5 L1079.9 523.7 L1080.3 548.1 L1080.8 550.4 L1081.2 497.2 L1081.7 499.7 L1082.1 504.0 L1082.6 600.9 L1083.1 540.6 L1083.5 578.0 L1084.0 600.1 L1084.4 525.7 L1084.9 525.4 L1085.3 534.4 L1085.8 544.5 L1086.2 542.8 L1086.7 568.4 L1087.1 570.5 L1087.6 533.0 L1088.0 531.7 L1088.5 523.9 L1088.9 525.9 L1089.4 521.5 L1089.8 548.7 L1090.3 566.0 L1090.8 566.0 L1091.2 566.0 L1091.7 454.1 L1092.1 495.2 L1092.6 512.6 L1093.0 553.2 L1093.5 566.9 L1093.9 491.0 L1094.4 490.0 L1094.8 494.9 L1095.3 502.0 L1095.7 502.8 L1096.2 537.6 L1096.6 538.2 L1097.1 490.9 L1097.6 488.7 L1098.0 489.6 L1098.5 499.0 L1098.9 510.9 L1099.4 524.6 L1099.8 538.2 L1100.3 476.8 L1100.7 476.5 L1101.2 472.5 L1101.6 488.5 L1102.1 501.9 L1102.5 521.9 L1103.0 540.9 L1103.4 484.1 L1103.9 544.9 L1104.3 489.1 L1104.8 501.3 L1105.3 517.1 L1105.7 544.1 L1106.2 544.1 L1106.6 493.6 L1107.1 492.0 L1107.5 495.1 L1108.0 502.8 L1108.4 504.5 L1108.9 547.8 L1109.3 541.8 L1109.8 493.2 L1110.2 489.0 L1110.7 485.5 L1111.1 486.8 L1111.6 486.1 L1112.0 504.3 L1112.5 505.5 L1113.0 470.3 L1113.4 468.0 L1113.9 468.7 L1114.3 467.2 L1114.8 480.1 L1115.2 500.1 L1115.7 502.4 L1116.1 460.1 L1116.6 461.2 L1117.0 465.4 L1117.5 465.9 L1117.9 482.9 L1118.4 510.0 L1118.8 506.9 L1119.3 465.9 L1119.8 461.0 L1120.2 460.6 L1120.7 465.3 L1121.1 456.5 L1121.6 493.1 L1122.0 504.8 L1122.5 470.4 L1122.9 470.7 L1123.4 478.4 L1123.8 486.3 L1124.3 496.8 L1124.7 514.9 L1125.2 523.4 L1125.6 496.6 L1126.1 495.2 L1126.5 497.2 L1127.0 497.7 L1127.5 500.1 L1127.9 528.9 L1128.4 509.4 L1128.8 482.3 L1129.3 476.6 L1129.7 473.7 L1130.2 461.1 L1130.6 479.8 L1131.1 495.8 L1131.5 500.5 L1132.0 464.6 L1132.4 462.9 L1132.9 463.6 L1133.3 467.6 L1133.8 484.0 L1134.3 510.0 L1134.7 510.0 L1135.2 510.0 L1135.6 510.0 L1136.1 452.5 L1136.5 455.4 L1137.0 476.8 L1137.4 508.1 L1137.9 510.6 L1138.3 450.3 L1138.8 443.6 L1139.2 442.3 L1139.7 460.6 L1140.1 472.4 L1140.6 508.5 L1141.0 514.0 L1141.5 449.0 L1142.0 445.8 L1142.4 446.0 L1142.9 449.4 L1143.3 459.2 L1143.8 504.1 L1144.2 512.1 L1144.7 442.7 L1145.1 428.8 L1145.6 513.6 L1146.0 430.3 L1146.5 419.3 L1146.9 456.8 L1147.4 451.2 L1147.8 365.5 L1148.3 357.0 L1148.8 353.0 L1149.2 378.0 L1149.7 431.7 L1150.1 412.6 L1150.6 427.6 L1151.0 371.2 L1151.5 371.5 L1151.9 375.8 L1152.4 377.5 L1152.8 383.4 L1153.3 419.5 L1153.7 416.4 L1154.2 355.9 L1154.6 329.9 L1155.1 313.0 L1155.5 302.5 L1156.0 321.0 L1156.5 352.8 L1156.9 293.0 L1157.4 296.0 L1157.8 294.7 L1158.3 306.7 L1158.7 319.9 L1159.2 345.0 L1159.6 394.4 L1160.1 415.6 L1160.5 376.6 L1161.0 391.7 L1161.4 403.4 L1161.9 405.2 L1162.3 411.0 L1162.8 478.4 L1163.3 484.7 L1163.7 460.9 L1164.2 459.7 L1164.6 460.3 L1165.1 461.6 L1165.5 468.1 L1166.0 477.2 L1166.4 482.1 L1166.9 460.7 L1167.3 461.6 L1167.8 456.3 L1168.2 484.8 L1168.7 496.4 L1169.1 508.7 L1169.6 517.7 L1170.0 539.9 L1170.5 504.6" fill="none" stroke="#7cb5ec" stroke-width="4" stroke-linejoin="round" stroke-linecap="round"/>
</g>
<g fill="#333333" font-size="37.8">
<text x="299.5" y="48" textLength="163.0" lengthAdjust="spacingAndGlyphs">Ethereum</text>
<text x="474.5" y="48" textLength="83.0" lengthAdjust="spacingAndGlyphs">Daily</text>
<text x="576.5" y="48" textLength="214.5" lengthAdjust="spacingAndGlyphs">Transactions</text>
<text x="805" y="48" textLength="94.0" lengthAdjust="spacingAndGlyphs">Chart</text>
</g>
<g fill="#666666" font-size="25">
<text x="482" y="104.3" textLength="234.5" lengthAdjust="spacingAndGlyphs">Source: Etherscan.io</text>
<text x="356.5" y="134.3" textLength="486.0" lengthAdjust="spacingAndGlyphs">Click and drag in the plot area to zoom in</text>
</g>
<text transform="translate(52,723) rotate(-90)" fill="#666666" font-size="25" textLength="247.5" lengthAdjust="spacingAndGlyphs">Transactions per Day</text>
<g fill="#666666" font-size="22.7" text-anchor="end">
<text transform="translate(160.2,179.9) scale(1.11,1)">2 000 k</text>
<text transform="translate(160.2,286.7) scale(1.11,1)">1 750 k</text>
<text transform="translate(160.2,393.5) scale(1.11,1)">1 500 k</text>
<text transform="translate(160.2,500.3) scale(1.11,1)">1 250 k</text>
<text transform="translate(160.2,607.1) scale(1.11,1)">1 000 k</text>
<text transform="translate(160.2,713.9) scale(1.11,1)">750 k</text>
<text transform="translate(160.2,820.7) scale(1.11,1)">500 k</text>
<text transform="translate(160.2,927.5) scale(1.11,1)">250 k</text>
<text transform="translate(160.2,1034.3) scale(1.11,1)">0</text>
</g>
<g fill="#666666" font-size="23.1" text-anchor="middle">
<text transform="translate(269.5,1064.6) scale(1.07,1)">2016</text>
<text transform="translate(435.5,1064.6) scale(1.07,1)">2017</text>
<text transform="translate(601.5,1064.6) scale(1.07,1)">2018</text>
<text transform="translate(767.5,1064.6) scale(1.07,1)">2019</text>
<text transform="translate(931.5,1064.6) scale(1.07,1)">2020</text>
<text transform="translate(1097.5,1064.6) scale(1.07,1)">2021</text>
</g>
</svg></body></html>
